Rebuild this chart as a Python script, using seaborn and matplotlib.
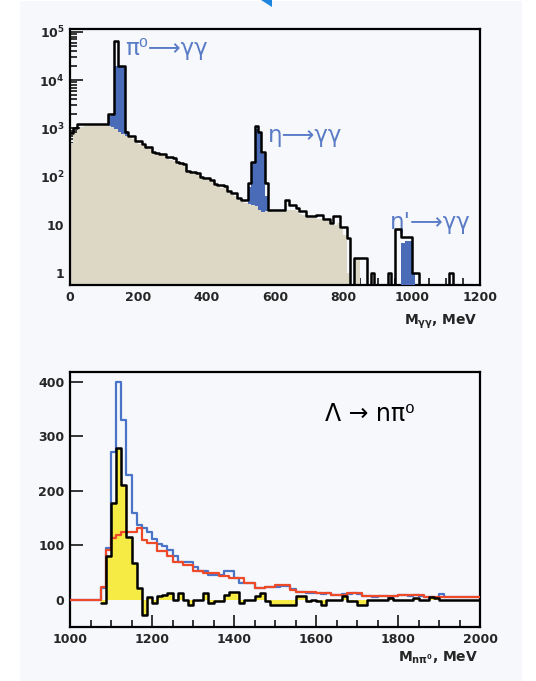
import numpy as np
import pandas as pd
import matplotlib
matplotlib.use("Agg")
import matplotlib.pyplot as plt
import seaborn as sns
from matplotlib.ticker import MultipleLocator, FixedLocator, FixedFormatter, LogLocator, NullFormatter
from matplotlib.patches import Rectangle, Polygon

# ---------------- top panel: M_gg, 10 MeV bins 0..1200 ----------------
mgg_edges = list(range(0, 1201, 10))
mgg_data = [
    800, 1000, 1250, 1250, 1250, 1250, 1250, 1250, 1250, 1250,      # 0-90
    1250, 2000, 2000, 65000, 20000, 20000, 830, 680, 680, 540,      # 100-190
    540, 480, 420, 420, 330, 310, 300, 290, 260, 250,               # 200-290
    240, 200, 195, 180, 130, 127, 125, 120, 100, 95,                # 300-390
    92, 85, 70, 68, 66, 64, 50, 46, 45, 36,                         # 400-490
    33, 33, 75, 205, 1100, 860, 320, 75, 20, 20,                    # 500-590
    20, 20, 20, 33, 26, 26, 22, 19, 19, 15,                         # 600-690
    15, 15, 16, 16, 13, 13, 11, 15, 15, 9,                          # 700-790
    9, 5.4, 0, 2, 2, 2, 2, 0, 1, 0,                                 # 800-890
    0, 0, 0, 1, 0, 8, 8, 5.5, 5.5, 5.5,                             # 900-990
    1, 1, 0, 0, 0, 0, 0, 0, 0, 0,                                   # 1000-1090
    0, 1, 0, 0, 0, 0, 0, 0, 0, 0,                                   # 1100-1190
]
mgg_bkg = [
    500, 800, 950, 1050, 1100, 1150, 1150, 1150, 1150, 1150,
    1150, 1100, 1050, 950, 850, 750, 700, 620, 600, 500,
    480, 440, 390, 380, 305, 285, 275, 265, 235, 225,
    215, 182, 175, 162, 120, 116, 113, 108, 90, 86,
    83, 76, 64, 61, 59, 57, 45, 41, 39, 32,
    29, 28, 27, 26, 24, 20, 18, 19, 20, 18,
    18, 18, 18, 20, 20, 20, 19, 17, 16, 14,
    14, 14, 13, 13, 12, 12, 10, 10, 11, 8,
    6, 1, 0, 2, 2, 0, 0, 0, 0, 0,
    0, 0, 0, 0, 0, 0, 0, 0, 0, 0,
    0, 0, 0, 0, 0, 0, 0, 0, 0, 0,
    0, 0, 0, 0, 0, 0, 0, 0, 0, 0,
]
# fitted signal tops (blue), per bin low edge
pi0_bins = [110, 120, 130, 140, 150, 160]
pi0_fit = [1800, 2000, 20000, 20000, 20000, 900]
eta_bins = [520, 530, 540, 550, 560, 570]
eta_fit = [60, 190, 950, 850, 300, 40]
etap_bins = [970, 980, 990, 1000]
etap_fit = [4.2, 4.5, 4.5, 1.0]

# ---------------- bottom panel: M_npi0, 12.5 MeV bins 1000..2000 ----------------
mnpi_edges = [1000 + 12.5 * i for i in range(81)]
mnpi_blue = [
    0, 0, 0, 0, 0, 0, 22, 95, 272, 400,
    330, 229, 160, 137, 132, 125, 112, 103, 98, 92,
    80, 70, 70, 70, 61, 52, 52, 46, 46, 46,
    52, 52, 40, 31, 31, 31, 21, 21, 24, 24,
    24, 26, 26, 20, 15, 15, 13, 13, 12, 10,
    12, 9, 8, 10, 11, 12, 10, 7, 6, 5,
    7, 6, 5, 6, 8, 9, 7, 8, 6, 5,
    5, 4, 10, 5, 5, 5, 5, 5, 5, 5,
]
mnpi_red = [
    0, 0, 0, 0, 0, 0, 24, 92, 113, 119,
    125, 125, 125, 132, 110, 104, 104, 89, 89, 80,
    70, 70, 64, 64, 52, 52, 50, 50, 50, 43,
    43, 40, 40, 40, 31, 31, 21, 21, 24, 24,
    28, 28, 28, 18, 15, 15, 15, 15, 12, 12,
    12, 9, 9, 9, 12, 12, 12, 6, 6, 6,
    6, 6, 6, 6, 9, 9, 9, 9, 9, 5,
    5, 5, 5, 5, 5, 5, 5, 5, 5, 5,
]
# difference histogram starts at 1075 MeV
diff_edges = mnpi_edges[6:]
mnpi_diff = [
    -6, 80, 178, 279,
    211, 116, 68, 22, -28, 5,
    -6, 6, 9, 12, 0, 13,
    0, -9, 0, 0, 13, -6, -3, -3,
    9, 15, 15, -6, 0,
    0, 6, 12, -3, -9,
    -9, -9, -9, -9, 6,
    6, -3, 0, -3, -9,
    0, 0, 0, 6, -3,
    -3, -9, -9, 0, 0,
    0, 0, 3, 0, 0,
    0, 0, 3, 0, 0,
    5, 3, 0, 0, 0,
    0, 0, 0, 0, 0,
]

TAN = "#dcd8c5"
BLUE_FILL = "#4a6cb8"
BLUE_TXT = "#5a7cc6"
BLUE_LINE = "#4a74c8"
RED_LINE = "#ee4a2a"
YELLOW = "#f6ea45"
PANEL = "#f6f8fb"

top = pd.DataFrame({"m": np.array(mgg_edges[:-1]) + 5, "data": mgg_data, "bkg": mgg_bkg})
bot = pd.DataFrame({"m": np.array(mnpi_edges[:-1]) + 6.25, "blue": mnpi_blue, "red": mnpi_red})
dif = pd.DataFrame({"m": np.array(diff_edges[:-1]) + 6.25, "diff": mnpi_diff})

sns.set_style("ticks")
plt.rcParams["font.family"] = ["DejaVu Sans"]
plt.rcParams["mathtext.default"] = "bf"
plt.rcParams["axes.linewidth"] = 1.6

fig = plt.figure(figsize=(5.36, 6.81), dpi=100)
fig.patch.set_facecolor("white")
fig.add_artist(Rectangle((20 / 536, 0), 502 / 536, 680 / 681, transform=fig.transFigure,
                         facecolor=PANEL, edgecolor="none", zorder=0))
# cut-off arrow tip at the top edge
px = lambda x, y: (x / 536, 1 - y / 681)
fig.add_artist(Polygon([px(261, 0), px(272, 0), px(272, 7)],
                       transform=fig.transFigure, facecolor="#1f86e0", edgecolor="none"))

ax1 = fig.add_axes([70 / 536, 1 - 285 / 681, 410 / 536, 256 / 681])
ax2 = fig.add_axes([70 / 536, 1 - 627 / 681, 410 / 536, 255 / 681])
for ax in (ax1, ax2):
    ax.set_facecolor(PANEL)

# ---- top
bkg = np.array(mgg_bkg, dtype=float)
fit = bkg.copy()
for bins, vals in ((pi0_bins, pi0_fit), (eta_bins, eta_fit), (etap_bins, etap_fit)):
    for b, v in zip(bins, vals):
        fit[mgg_edges.index(b)] = v

ax1.set_yscale("log")
sns.histplot(data=top, x="m", weights="bkg", bins=mgg_edges, element="step", fill=True,
             color=TAN, alpha=1, linewidth=0, ax=ax1)
ax1.stairs(fit, mgg_edges, baseline=bkg, fill=True, color=BLUE_FILL, zorder=3)
sns.histplot(data=top, x="m", weights="data", bins=mgg_edges, element="step", fill=False,
             color="black", linewidth=1.8, ax=ax1, zorder=4)

ax1.set_xlim(0, 1200)
ax1.set_ylim(0.563, 10 ** 5.062)
ax1.xaxis.set_major_locator(MultipleLocator(200))
ax1.xaxis.set_minor_locator(MultipleLocator(50))
ax1.yaxis.set_major_locator(FixedLocator([1, 10, 100, 1e3, 1e4, 1e5]))
ax1.yaxis.set_major_formatter(FixedFormatter(["1", "10", "$10^{2}$", "$10^{3}$", "$10^{4}$", "$10^{5}$"]))
ax1.yaxis.set_minor_locator(LogLocator(base=10, subs=np.arange(2, 10)))
ax1.yaxis.set_minor_formatter(NullFormatter())

lab_kw = dict(color=BLUE_TXT, fontsize=16.5, ha="left", va="center")
ax1.text(161, 10 ** 4.66, "π⁰⟶γγ", **lab_kw)
ax1.text(579, 10 ** 2.86, "η⟶γγ", **lab_kw)
ax1.text(936, 10 ** 1.04, "η'⟶γγ", **lab_kw)
ax1.text(0.995, -0.145, "M$_{γγ}$, MeV", transform=ax1.transAxes, ha="right", va="center",
         fontsize=10, fontweight="bold")

# ---- bottom
sns.histplot(data=dif, x="m", weights="diff", bins=diff_edges, element="step", fill=True,
             color=YELLOW, alpha=1, linewidth=0, ax=ax2, zorder=1)
sns.histplot(data=bot, x="m", weights="blue", bins=mnpi_edges, element="step", fill=False,
             color=BLUE_LINE, linewidth=1.6, ax=ax2, zorder=2)
sns.histplot(data=bot, x="m", weights="red", bins=mnpi_edges, element="step", fill=False,
             color=RED_LINE, linewidth=1.6, ax=ax2, zorder=3)
sns.histplot(data=dif, x="m", weights="diff", bins=diff_edges, element="step", fill=False,
             color="black", linewidth=1.8, ax=ax2, zorder=4)

ax2.set_xlim(1000, 2000)
ax2.set_ylim(-50, 418)
ax2.xaxis.set_major_locator(MultipleLocator(200))
ax2.xaxis.set_minor_locator(MultipleLocator(50))
ax2.yaxis.set_major_locator(FixedLocator([0, 100, 200, 300, 400]))

ax2.text(1622, 341, "Λ → nπ⁰", color="black", fontsize=17, ha="left", va="center")
ax2.text(0.995, -0.12, "M$_{nπ^{0}}$, MeV", transform=ax2.transAxes, ha="right", va="center",
         fontsize=10, fontweight="bold")

for ax in (ax1, ax2):
    ax.set_xlabel("")
    ax.set_ylabel("")
    ax.tick_params(which="both", direction="in", top=False, right=False, width=1.3, pad=4)
    ax.tick_params(which="major", length=9, labelsize=9)
    ax.tick_params(which="minor", length=5)
    for lbl in ax.get_xticklabels() + ax.get_yticklabels():
        lbl.set_fontweight("bold")
    for s in ax.spines.values():
        s.set_visible(True)
        s.set_linewidth(1.6)
        s.set_color("black")

fig.savefig("out.png", dpi=100, facecolor=fig.get_facecolor())
